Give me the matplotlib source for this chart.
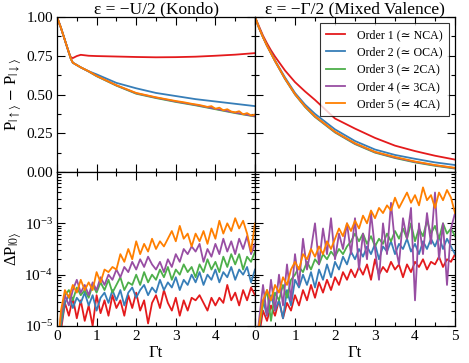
import numpy as np
import matplotlib
matplotlib.use("Agg")
import matplotlib.pyplot as plt
from matplotlib.ticker import MultipleLocator, LogLocator, NullFormatter

plt.rcParams['font.family'] = ['Liberation Serif', 'DejaVu Serif']
plt.rcParams['mathtext.fontset'] = 'stix'

colors = ['#e41a1c', '#377eb8', '#4daf4a', '#984ea3', '#ff7f00']
labels = ['Order 1 (≃ NCA)', 'Order 2 (≃ OCA)', 'Order 3 (≃ 2CA)',
          'Order 4 (≃ 3CA)', 'Order 5 (≃ 4CA)']

# ---- top left: Kondo, P_up - P_down ----
t_k = [0, 0.1, 0.2, 0.3, 0.35, 0.4, 0.5, 0.6, 0.8, 1.0, 1.5, 2.0, 2.5, 3.0, 3.5, 4.0, 4.5, 5.0]
k_red = [1.0, 0.93, 0.85, 0.77, 0.74, 0.735, 0.748, 0.756, 0.75, 0.748, 0.745, 0.742, 0.74, 0.741, 0.744, 0.75, 0.757, 0.767]
k_blue = [1.0, 0.93, 0.85, 0.77, 0.73, 0.705, 0.69, 0.675, 0.65, 0.63, 0.575, 0.54, 0.51, 0.49, 0.47, 0.455, 0.44, 0.425]
k_green = [1.0, 0.93, 0.85, 0.77, 0.73, 0.705, 0.69, 0.675, 0.648, 0.618, 0.557, 0.505, 0.477, 0.452, 0.43, 0.405, 0.38, 0.358]
k_purple = [1.0, 0.93, 0.85, 0.77, 0.73, 0.705, 0.69, 0.675, 0.649, 0.62, 0.559, 0.508, 0.48, 0.455, 0.433, 0.408, 0.383, 0.36]
t_k_orange = [0, 0.1, 0.2, 0.3, 0.35, 0.4, 0.5, 0.6, 0.8, 1.0, 1.5, 2.0, 2.5, 3.0, 3.2, 3.4, 3.6,
              3.8, 3.9, 4.0, 4.1, 4.2, 4.3, 4.4, 4.5, 4.6, 4.7, 4.8, 4.9, 5.0]
k_orange = [1.0, 0.93, 0.85, 0.77, 0.73, 0.705, 0.69, 0.675, 0.65, 0.62, 0.56, 0.51, 0.482, 0.458, 0.45,
            0.44, 0.432, 0.42, 0.425, 0.408, 0.415, 0.398, 0.405, 0.39, 0.385, 0.392, 0.372, 0.38, 0.365, 0.37]

# ---- top right: mixed valence ----
t_mv = [0, 0.1, 0.2, 0.3, 0.4, 0.5, 0.75, 1.0, 1.25, 1.5, 2.0, 2.5, 3.0, 3.5, 4.0, 4.5, 5.0]
mv_red = [1.0, 0.94, 0.88, 0.83, 0.785, 0.745, 0.655, 0.58, 0.52, 0.465, 0.345, 0.28, 0.22, 0.17, 0.135, 0.105, 0.08]
mv_blue = [1.0, 0.93, 0.87, 0.815, 0.77, 0.72, 0.61, 0.51, 0.435, 0.375, 0.275, 0.2, 0.145, 0.11, 0.085, 0.062, 0.045]
mv_green = [1.0, 0.93, 0.87, 0.815, 0.765, 0.715, 0.6, 0.5, 0.42, 0.355, 0.255, 0.18, 0.125, 0.09, 0.062, 0.04, 0.022]
mv_purple = [1.0, 0.93, 0.87, 0.815, 0.766, 0.716, 0.602, 0.502, 0.423, 0.358, 0.258, 0.183, 0.128, 0.093, 0.065, 0.043, 0.025]
mv_orange = [1.0, 0.93, 0.87, 0.815, 0.766, 0.717, 0.603, 0.503, 0.424, 0.36, 0.26, 0.186, 0.13, 0.097, 0.068, 0.045, 0.027]

# ---- bottom: log10 of Delta P_0, t = 0.0 ... 5.0 step 0.1 ----
t_dp = [i / 10 for i in range(51)]
dpk_red = [-5.6, -5.1, -4.55, -4.8, -4.45, -4.85, -4.5, -4.9, -4.6, -5.0, -4.4, -4.75, -4.5, -4.8, -4.4, -4.65,
           -4.5, -4.8, -4.4, -4.65, -4.35, -4.7, -4.5, -4.95, -4.55, -4.4, -4.65, -4.3, -4.55, -4.7, -4.45,
           -4.8, -4.5, -4.7, -4.45, -4.5, -4.4, -4.55, -4.7, -4.45, -4.6, -4.45, -4.55, -4.2, -4.5, -4.35,
           -4.6, -4.3, -4.5, -4.25, -4.4]
dpk_blue = [-5.6, -5.0, -4.55, -4.4, -4.65, -4.45, -4.55, -4.35, -4.6, -4.4, -4.7, -4.45, -4.35, -4.55, -4.3,
            -4.5, -4.3, -4.6, -4.35, -4.25, -4.45, -4.3, -4.2, -4.4, -4.25, -4.35, -4.1, -4.3, -4.15, -4.25,
            -4.05, -4.3, -4.1, -4.2, -4.0, -4.15, -3.95, -4.2, -4.0, -4.1, -3.9, -4.15, -3.95, -4.05, -3.85,
            -4.1, -3.9, -4.0, -3.85, -4.15, -3.9]
dpk_green = [-5.6, -4.9, -4.4, -4.3, -4.5, -4.25, -4.4, -4.3, -4.45, -4.2, -4.35, -4.15, -4.3, -4.1, -4.35,
             -4.2, -4.05, -4.3, -4.15, -4.2, -4.0, -4.2, -3.95, -4.15, -4.0, -4.1, -3.9, -4.05, -3.85, -4.1,
             -3.9, -4.0, -3.8, -3.95, -3.85, -4.05, -3.8, -3.95, -3.7, -3.9, -3.75, -3.95, -3.65, -3.85, -3.6,
             -3.8, -3.6, -3.9, -3.65, -3.75, -3.55]
dpk_purple = [-5.6, -4.8, -4.4, -4.6, -4.3, -4.1, -4.35, -4.2, -4.4, -4.15, -4.3, -4.05, -4.2, -4.0, -4.1,
              -3.9, -4.05, -3.85, -3.95, -3.75, -3.9, -3.7, -3.85, -3.65, -3.8, -3.9, -3.75, -3.95, -3.7,
              -3.85, -3.6, -3.75, -3.5, -3.6, -3.45, -3.55, -3.4, -3.75, -3.5, -3.65, -3.4, -3.6, -3.3, -3.55,
              -3.35, -3.6, -3.3, -3.5, -3.25, -3.6, -3.4]
dpk_orange = [-5.6, -4.7, -4.3, -4.45, -4.2, -4.35, -4.1, -4.3, -4.15, -4.3, -3.95, -4.15, -3.9, -3.95, -3.85,
              -3.9, -3.6, -3.75, -3.5, -3.7, -3.35, -3.6, -3.4, -3.55, -3.3, -3.5, -3.35, -3.45, -3.3, -3.15,
              -3.35, -3.05, -3.3, -3.2, -3.45, -3.2, -3.35, -3.15, -3.4, -3.1, -3.3, -2.95, -3.2, -3.0, -3.15,
              -2.9, -3.1, -2.95, -3.2, -3.55, -3.0]

dpm_red = [-5.6, -5.2, -4.7, -4.9, -4.6, -4.8, -4.5, -4.85, -4.55, -4.7, -4.4, -4.6, -4.3, -4.5, -4.2, -4.45,
           -4.15, -4.35, -4.1, -4.3, -4.05, -4.2, -3.95, -4.1, -3.9, -4.05, -3.85, -4.0, -3.8, -4.1, -3.7,
           -4.0, -3.85, -3.95, -3.75, -3.9, -3.8, -4.05, -3.8, -3.95, -3.75, -3.85, -3.7, -3.9, -3.75, -3.8,
           -3.65, -3.85, -3.7, -3.75, -3.6]
dpm_blue = [-5.6, -5.1, -4.5, -4.8, -4.4, -4.7, -4.5, -4.85, -4.3, -4.6, -4.1, -4.25, -4.0, -4.2, -3.95,
            -4.25, -3.9, -4.1, -3.8, -4.05, -3.75, -3.9, -3.65, -3.8, -3.55, -3.7, -3.5, -3.65, -3.45, -3.6,
            -3.4, -3.7, -3.45, -3.55, -3.35, -3.6, -3.4, -3.5, -3.3, -3.55, -3.4, -3.6, -3.35, -3.5, -3.3,
            -3.45, -3.25, -3.5, -3.3, -3.45, -3.6]
dpm_green = [-5.6, -5.0, -4.6, -4.3, -4.9, -4.35, -4.5, -4.2, -4.45, -4.1, -4.0, -3.85, -3.95, -3.75, -3.9,
             -3.7, -3.8, -3.6, -3.7, -3.55, -3.65, -3.5, -3.6, -3.45, -3.35, -3.2, -3.35, -3.2, -3.4, -3.25,
             -3.45, -3.3, -3.4, -3.2, -3.35, -3.15, -3.3, -3.1, -3.3, -3.0, -3.35, -3.1, -3.25, -2.95, -3.2,
             -3.05, -3.3, -3.0, -3.2, -3.1, -3.25]
dpm_purple = [-5.6, -4.9, -4.2, -4.8, -4.1, -4.7, -4.0, -4.6, -3.8, -4.5, -3.6, -4.2, -3.3, -3.9, -3.5, -3.0,
              -3.8, -3.1, -3.6, -2.9, -3.7, -3.2, -3.5, -3.0, -3.6, -2.9, -3.9, -3.2, -3.7, -2.8, -3.5, -4.1,
              -3.0, -3.6, -2.6, -3.4, -3.8, -2.9, -3.3, -2.7, -4.5, -3.0, -3.6, -2.8, -3.4, -2.4, -3.7, -3.0,
              -4.2, -3.1, -2.8]
dpm_orange = [-5.6, -5.0, -4.5, -4.3, -4.5, -4.2, -4.35, -4.05, -4.2, -3.9, -3.75, -3.9, -3.6, -3.7, -3.5,
              -3.65, -3.45, -3.6, -3.35, -3.5, -3.3, -3.1, -3.25, -3.0, -3.15, -2.95, -3.1, -2.85, -3.0, -2.75,
              -2.9, -2.7, -2.8, -2.65, -2.75, -2.5, -2.7, -2.55, -2.4, -2.6, -2.45, -2.65, -2.3, -2.55, -2.45,
              -2.7, -2.4, -2.55, -2.35, -2.5, -2.8]

W, H = 469, 363
fig = plt.figure(figsize=(W / 100, H / 100), dpi=100)
x0, x1, x2 = 57 / W, 255 / W, 455 / W
y0, y1, y2 = 1 - 326 / H, 1 - 172 / H, 1 - 17 / H
ax_tl = fig.add_axes([x0, y1, x1 - x0, y2 - y1])
ax_tr = fig.add_axes([x1, y1, x2 - x1, y2 - y1])
ax_bl = fig.add_axes([x0, y0, x1 - x0, y1 - y0])
ax_br = fig.add_axes([x1, y0, x2 - x1, y1 - y0])

lw = 1.3
tl_data = [(t_k, k_red), (t_k, k_blue), (t_k, k_green), (t_k, k_purple), (t_k_orange, k_orange)]
for (tt, vv), c in zip(tl_data, colors):
    ax_tl.plot(tt, vv, color=c, lw=lw)
for vv, c, lab in zip([mv_red, mv_blue, mv_green, mv_purple, mv_orange], colors, labels):
    ax_tr.plot(t_mv, vv, color=c, lw=lw, label=lab)
for vv, c in zip([dpk_red, dpk_blue, dpk_green, dpk_purple, dpk_orange], colors):
    ax_bl.plot(t_dp, 10.0 ** np.array(vv), color=c, lw=lw)
for vv, c in zip([dpm_red, dpm_blue, dpm_green, dpm_purple, dpm_orange], colors):
    ax_br.plot(t_dp, 10.0 ** np.array(vv), color=c, lw=lw)

for ax in [ax_tl, ax_tr, ax_bl, ax_br]:
    ax.set_xlim(0, 5)
    ax.xaxis.set_major_locator(MultipleLocator(1))
    ax.xaxis.set_minor_locator(MultipleLocator(0.5))
    ax.tick_params(which='both', direction='in', top=True, right=True, labelsize=11, pad=3)
    ax.tick_params(which='major', length=6, width=0.8)
    ax.tick_params(which='minor', length=3, width=0.8)
    for s in ax.spines.values():
        s.set_linewidth(0.9)

for ax in [ax_tl, ax_tr]:
    ax.set_ylim(0, 1)
    ax.yaxis.set_major_locator(MultipleLocator(0.25))
    ax.yaxis.set_minor_locator(MultipleLocator(0.125))
    ax.tick_params(labelbottom=False)
ax_tl.set_yticks([0, 0.25, 0.5, 0.75, 1.0])
ax_tl.set_yticklabels(['0.00', '0.25', '0.50', '0.75', '1.00'])
ax_tr.tick_params(labelleft=False)

for ax in [ax_bl, ax_br]:
    ax.set_yscale('log')
    ax.set_ylim(1e-5, 1e-2)
    ax.yaxis.set_major_locator(LogLocator(base=10, numticks=10))
    ax.yaxis.set_minor_locator(LogLocator(base=10, subs=np.arange(2, 10), numticks=10))
    ax.yaxis.set_minor_formatter(NullFormatter())
    ax.set_xlabel('Γt', fontsize=12, labelpad=1)
ax_bl.set_yticks([1e-5, 1e-4, 1e-3])
ax_bl.set_xticks([0, 1, 2, 3, 4, 5])
ax_bl.set_xticklabels(['0', '1', '2', '3', '4', ''])
ax_br.set_yticks([1e-5, 1e-4, 1e-3])
ax_br.tick_params(labelleft=False)

ax_tl.set_ylabel(r'P$_{|\uparrow\rangle}$ $-$ P$_{|\downarrow\rangle}$', fontsize=12)
ax_bl.set_ylabel(r'ΔP$_{|0\rangle}$', fontsize=12)
ax_tl.yaxis.set_label_coords(-0.165, 0.5)
ax_bl.yaxis.set_label_coords(-0.165, 0.5)
ax_tl.set_title('ε = −U/2 (Kondo)', fontsize=12.5, pad=1)
ax_tr.set_title('ε = −Γ/2 (Mixed Valence)', fontsize=12.5, pad=1)

leg = ax_tr.legend(loc='upper right', fontsize=8.6, frameon=True, fancybox=False,
                   handlelength=1.6, handletextpad=1.0, borderaxespad=0.5,
                   labelspacing=0.45, borderpad=0.5)
leg.get_frame().set_edgecolor('black')
leg.get_frame().set_linewidth(0.8)

fig.savefig('out.png', dpi=100)
